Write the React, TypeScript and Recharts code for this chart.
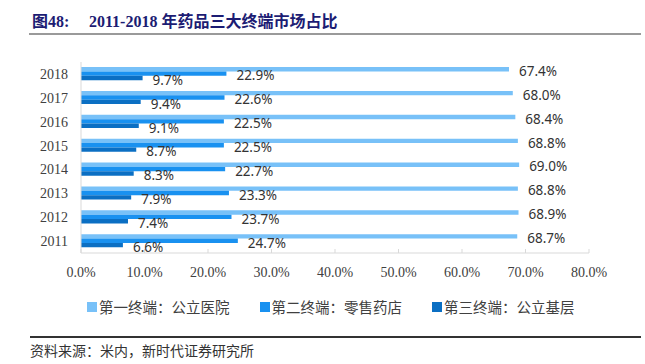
import React from 'react';
import { BarChart, Bar, XAxis, YAxis, LabelList } from 'recharts';

const years = ['2018', '2017', '2016', '2015', '2014', '2013', '2012', '2011'];
const hospital = [67.4, 68.0, 68.4, 68.8, 69.0, 68.8, 68.9, 68.7];
const retail = [22.9, 22.6, 22.5, 22.5, 22.7, 23.3, 23.7, 24.7];
const grassroots = [9.7, 9.4, 9.1, 8.7, 8.3, 7.9, 7.4, 6.6];
const xTicks = [0, 10, 20, 30, 40, 50, 60, 70, 80];
const seriesNames = ['第一终端：公立医院', '第二终端：零售药店', '第三终端：公立基层'];
const colors = ['#78c1f8', '#1991f0', '#0b6fc3'];

const data = years.map((y, i) => ({
  year: y,
  hospital: hospital[i],
  retail: retail[i],
  grassroots: grassroots[i],
}));

const fmt = (v: any) => Number(v).toFixed(1) + '%';

const labelStyle = { fill: '#333333', fontSize: 13.5, fontFamily: 'Noto Sans, sans-serif' };

const LegendBlock = () => (
  <div style={{ position: 'absolute', left: 87, top: 299, display: 'flex', alignItems: 'center', fontFamily: '"Noto Sans CJK SC", sans-serif', fontSize: 14.5, color: '#404040', lineHeight: '16px', whiteSpace: 'nowrap' }}>
    {seriesNames.map((n, i) => (
      <div key={n} style={{ display: 'flex', alignItems: 'center', marginRight: i < 2 ? 30 : 0 }}>
        <span style={{ display: 'inline-block', width: 10, height: 10, background: colors[i], marginRight: 2 }} />
        <span>{n}</span>
      </div>
    ))}
  </div>
);

export default function App() {
  return (
    <div style={{ position: 'absolute', left: 0, top: 0, width: 645, height: 364, background: '#fff', overflow: 'hidden' }}>
      <div style={{ position: 'absolute', left: 32, top: 12, fontFamily: '"Liberation Serif", "Noto Sans CJK SC", serif', fontWeight: 'bold', fontSize: 16, color: '#1c1c73', whiteSpace: 'nowrap', lineHeight: '20px' }}>
        <span>图48:</span>
        <span style={{ position: 'absolute', left: 57 }}>2011-2018 年药品三大终端市场占比</span>
      </div>
      <div style={{ position: 'absolute', left: 29, top: 33, width: 612, height: 2, background: '#9a9a9a' }} />
      <BarChart
        width={645}
        height={364}
        data={data}
        layout="vertical"
        margin={{ top: 62, right: 56, bottom: 61, left: 41 }}
        barGap={0}
        barSize={4.4}
      >
        <XAxis
          type="number"
          domain={[0, 80]}
          ticks={xTicks}
          interval={0}
          tickFormatter={(v: any) => Number(v).toFixed(1) + '%'}
          axisLine={{ stroke: '#d9d9d9' }}
          tickLine={{ stroke: '#d9d9d9' }}
          tickSize={-4}
          tickMargin={18}
          tick={{ fill: '#404040', fontSize: 14, fontFamily: '"Liberation Serif", serif' }}
          height={50}
        />
        <YAxis
          type="category"
          dataKey="year"
          width={40}
          interval={0}
          axisLine={{ stroke: '#d9d9d9' }}
          tickLine={false}
          tickSize={0}
          tickMargin={13}
          tick={{ fill: '#404040', fontSize: 14, fontFamily: '"Liberation Serif", serif' }}
        />
        <Bar dataKey="hospital" name={seriesNames[0]} fill={colors[0]} isAnimationActive={false}>
          <LabelList dataKey="hospital" position="right" offset={10} formatter={fmt} style={labelStyle} dy={2} />
        </Bar>
        <Bar dataKey="retail" name={seriesNames[1]} fill={colors[1]} isAnimationActive={false}>
          <LabelList dataKey="retail" position="right" offset={10} formatter={fmt} style={labelStyle} dy={2} />
        </Bar>
        <Bar dataKey="grassroots" name={seriesNames[2]} fill={colors[2]} isAnimationActive={false}>
          <LabelList dataKey="grassroots" position="right" offset={10} formatter={fmt} style={labelStyle} dy={2} />
        </Bar>
      </BarChart>
      <LegendBlock />
      <div style={{ position: 'absolute', left: 30, top: 336, width: 611, height: 1.5, background: '#333' }} />
      <div style={{ position: 'absolute', left: 30, top: 341, fontFamily: '"Noto Sans CJK SC", serif', fontSize: 14, color: '#333', lineHeight: '18px', whiteSpace: 'nowrap' }}>
        资料来源：米内，新时代证券研究所
      </div>
    </div>
  );
}
